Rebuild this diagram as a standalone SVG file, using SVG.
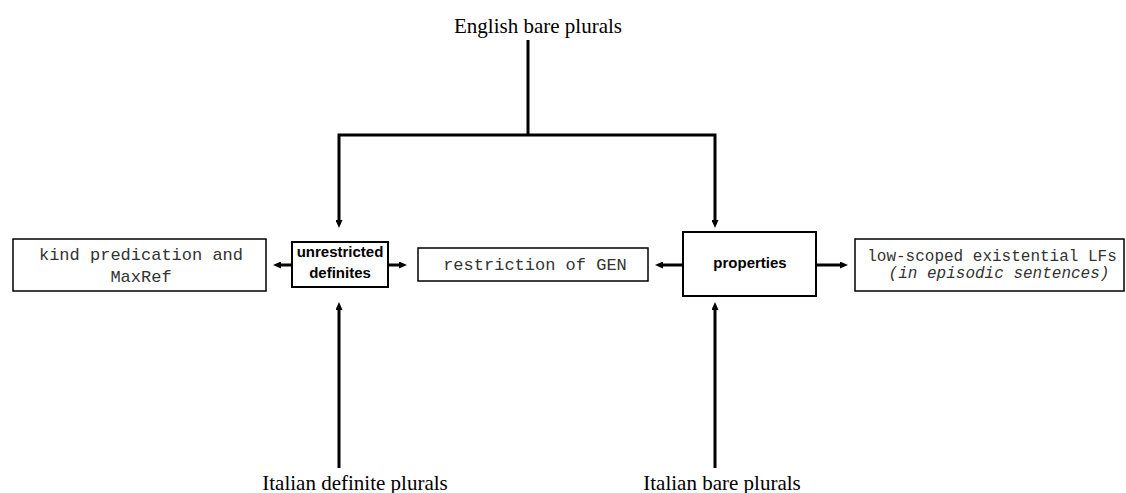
<svg xmlns="http://www.w3.org/2000/svg" width="1126" height="493" viewBox="0 0 1126 493">
<style>
.serif{font-family:"Liberation Serif","Times New Roman",serif;font-size:21px;fill:#000}
.mono{font-family:"Liberation Mono","Courier New",monospace;font-size:17px;fill:#333}
.monos{font-family:"Liberation Mono","Courier New",monospace;font-size:16px;fill:#333}
.bold{font-family:"Liberation Sans",Arial,sans-serif;font-size:15px;font-weight:bold;fill:#000}
.box{fill:#fff;stroke:#000;stroke-width:1.5}
.boxb{fill:#fff;stroke:#000;stroke-width:2}
.conn{fill:none;stroke:#000;stroke-width:3;stroke-linecap:butt;stroke-linejoin:miter}
</style>
<defs>
<marker id="ah" viewBox="0 0 8 7" refX="2" refY="3.5" markerWidth="8" markerHeight="7" markerUnits="userSpaceOnUse" orient="auto-start-reverse">
<path d="M0,0 L8,3.5 L0,7 z" fill="#000"/>
</marker>
</defs>
<g id="connectors">
<path class="conn" d="M528,40 V135"/>
<path class="conn" d="M339,222 V135 H715 V222" marker-start="url(#ah)" marker-end="url(#ah)"/>
<path class="conn" d="M339,468 V308" marker-end="url(#ah)"/>
<path class="conn" d="M715,468 V308" marker-end="url(#ah)"/>
<path class="conn" d="M292,265 H279" marker-end="url(#ah)"/>
<path class="conn" d="M388,265 H401" marker-end="url(#ah)"/>
<path class="conn" d="M683,265 H661" marker-end="url(#ah)"/>
<path class="conn" d="M816,265 H842" marker-end="url(#ah)"/>
</g>
<g id="english-bare-plurals">
<text class="serif" x="538" y="33" text-anchor="middle">English bare plurals</text>
</g>
<g id="italian-definite-plurals">
<text class="serif" x="355" y="490" text-anchor="middle">Italian definite plurals</text>
</g>
<g id="italian-bare-plurals">
<text class="serif" x="722" y="490" text-anchor="middle">Italian bare plurals</text>
</g>
<g id="kind-predication">
<rect class="box" x="13" y="239" width="253" height="52"/>
<text class="mono" x="141" y="260" text-anchor="middle">kind predication and</text>
<text class="mono" x="141" y="282" text-anchor="middle">MaxRef</text>
</g>
<g id="unrestricted-definites">
<rect class="boxb" x="292" y="242" width="96" height="45"/>
<text class="bold" x="340" y="257" text-anchor="middle">unrestricted</text>
<text class="bold" x="340" y="278" text-anchor="middle">definites</text>
</g>
<g id="restriction-of-gen">
<rect class="box" x="418" y="248" width="230" height="33"/>
<text class="mono" x="535" y="270" text-anchor="middle">restriction of GEN</text>
</g>
<g id="properties">
<rect class="boxb" x="683" y="232" width="133" height="64"/>
<text class="bold" x="750" y="268" text-anchor="middle">properties</text>
</g>
<g id="low-scoped">
<rect class="box" x="855" y="239" width="269" height="52"/>
<text class="monos" x="992" y="261" text-anchor="middle">low-scoped existential LFs</text>
<text class="monos" x="999" y="278" text-anchor="middle" font-style="italic">(in episodic sentences)</text>
</g>
</svg>
